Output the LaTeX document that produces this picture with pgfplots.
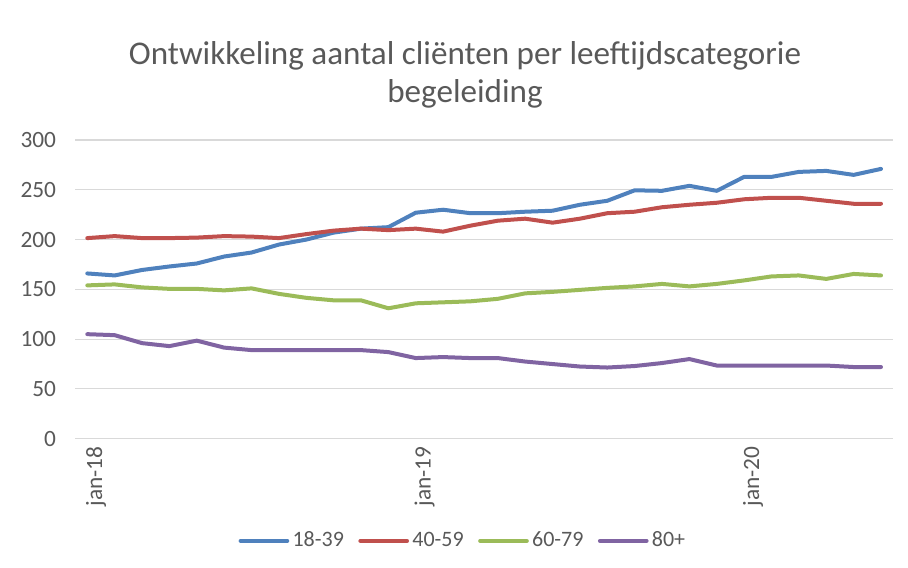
\documentclass[border=0pt]{standalone}
\usepackage{pgfplots}
\usepackage{pgfplotstable}
\pgfplotsset{compat=1.18}
\usepackage{fontspec}
\setmainfont{Carlito}
\definecolor{c1}{HTML}{4F81BD}
\definecolor{c2}{HTML}{C0504D}
\definecolor{c3}{HTML}{9BBB59}
\definecolor{c4}{HTML}{8064A2}
\definecolor{txt}{HTML}{595959}
\definecolor{grd}{HTML}{D9D9D9}
\pgfplotstableread{
i a b c d
0 166 201.5 154 105
1 164 203.5 155 104
2 169.5 201.5 152 96
3 173 201.5 150.5 93
4 176 202 150.5 98.5
5 183 203.5 149 91.5
6 187 203 151 89
7 195 201.5 145.5 89
8 200 205.5 141.5 89
9 207 209 139 89
10 211 211 139 89
11 212.5 209.5 131 87
12 227 211 136 81
13 230 208 137 82
14 226.5 214 138 81
15 226.5 219 140.5 81
16 228 221 146 77.5
17 229 217 147.5 75
18 235 221 149.5 72.5
19 239 226.5 151.5 71.5
20 249.5 228 153 73
21 249 232.5 155.5 76
22 254 235 153 80
23 249 237 155.5 73.5
24 263 240.5 159 73.5
25 263 242 163 73.5
26 268 242 164 73.5
27 269 239 160.5 73.5
28 265 236 165.5 72
29 271 236 164 72
}\data
\begin{document}
\begin{tikzpicture}
\useasboundingbox (0,0) rectangle (408.6pt,255.15pt);
\node[anchor=base, text=txt, font=\fontsize{14.9}{17}\selectfont] at (209.25pt,226.35pt) {Ontwikkeling aantal cliënten per leeftijdscategorie};
\node[anchor=base, text=txt, font=\fontsize{14.9}{17}\selectfont] at (209.25pt,209.25pt) {begeleiding};
\begin{axis}[
  at={(33.75pt,57.735pt)}, anchor=south west,
  scale only axis, width=368.1pt, height=134.4pt,
  xmin=-0.45, xmax=29.44, ymin=0, ymax=300,
  ytick={0,50,...,300},
  xtick={0,12,24}, xticklabels={jan-18,jan-19,jan-20},
  ymajorgrids, grid style={grd, line width=0.5pt},
  axis line style={draw=none}, tick style={draw=none},
  /pgf/number format/assume math mode=true,
  ticklabel style={text=txt, font=\fontsize{10.5}{12}\selectfont},
  xticklabel style={rotate=90, anchor=east, yshift=-4pt},
  yticklabel style={xshift=-5pt},
  legend columns=4,
  legend style={at={(0.475,-0.342)}, anchor=center, draw=none, fill=none,
    font=\fontsize{9.9}{11}\selectfont, text=txt,
    nodes={inner xsep=1.5pt},
    /tikz/every even column/.append style={column sep=5pt},
    /tikz/every odd column/.append style={column sep=0pt}},
  legend image code/.code={\draw[#1] (0pt,0pt) -- (21pt,0pt);},
  clip=false,
  every axis plot/.append style={line width=1.8pt, line join=round, line cap=round},
]
\addplot[c1] table[x=i,y=a] {\data};
\addplot[c2] table[x=i,y=b] {\data};
\addplot[c3] table[x=i,y=c] {\data};
\addplot[c4] table[x=i,y=d] {\data};
\legend{18-39,40-59,60-79,80+}
\end{axis}
\end{tikzpicture}
\end{document}
